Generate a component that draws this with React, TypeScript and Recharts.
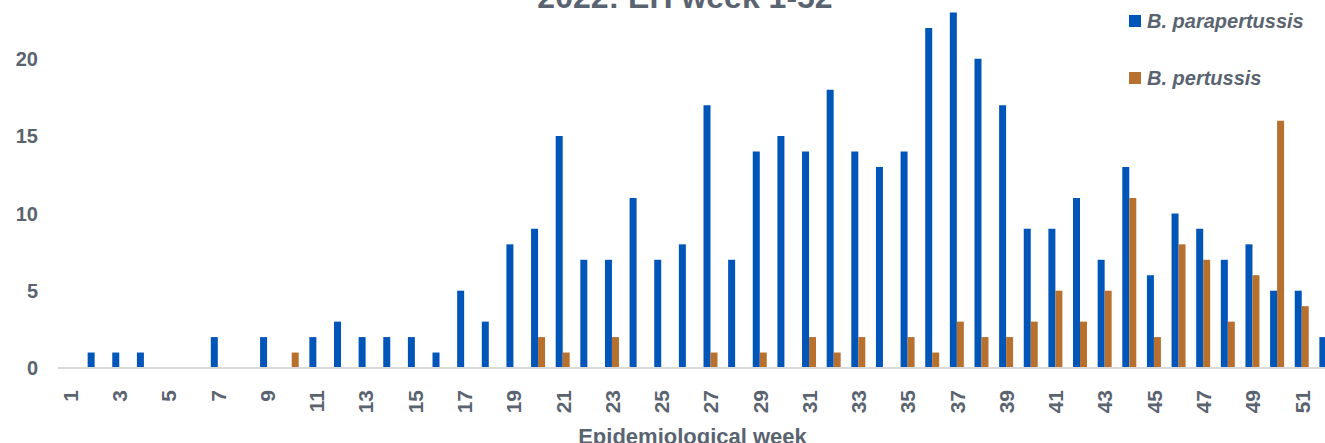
import { BarChart, Bar, XAxis, YAxis } from "recharts";

const weeks = Array.from({ length: 52 }, (_, i) => String(i + 1));

// B. parapertussis cases per week
const parapertussis = [
  0, 1, 1, 1, 0, 0, 2, 0, 2, 0,
  2, 3, 2, 2, 2, 1, 5, 3, 8, 9,
  15, 7, 7, 11, 7, 8, 17, 7, 14, 15,
  14, 18, 14, 13, 14, 22, 23, 20, 17, 9,
  9, 11, 7, 13, 6, 10, 9, 7, 8, 5,
  5, 2,
];

// B. pertussis cases per week
const pertussis = [
  0, 0, 0, 0, 0, 0, 0, 0, 0, 1,
  0, 0, 0, 0, 0, 0, 0, 0, 0, 2,
  1, 0, 2, 0, 0, 0, 1, 0, 1, 0,
  2, 1, 2, 0, 2, 1, 3, 2, 2, 3,
  5, 3, 5, 11, 2, 8, 7, 3, 6, 16,
  4, 0,
];

const yTicks = [0, 5, 10, 15, 20];

const BLUE = "#0056b8";
const ORANGE = "#b7702d";
const TEXT = "#5a6470";
const FONT = "'Liberation Sans', Arial, sans-serif";

const data = weeks.map((w, i) => ({
  week: w,
  para: parapertussis[i],
  pert: pertussis[i],
}));

const WeekTick = (props: any) => {
  const { x, y, payload } = props;
  return (
    <text
      x={x}
      y={y}
      dy={7.5}
      transform={`rotate(-90 ${x} ${y})`}
      textAnchor="end"
      fill={TEXT}
      fontSize={21}
      fontWeight="bold"
      fontFamily={FONT}
    >
      {payload.value}
    </text>
  );
};

const legendItems = [
  { name: "B. parapertussis", color: BLUE, top: 9 },
  { name: "B. pertussis", color: ORANGE, top: 66 },
];

export default function App() {
  return (
    <div
      style={{
        position: "fixed",
        left: 0,
        top: 0,
        width: 1325,
        height: 443,
        overflow: "hidden",
        background: "#fff",
        fontFamily: FONT,
      }}
    >
      <div style={{ position: "absolute", left: 0, top: -60 }}>
        <BarChart
          width={1349}
          height={520}
          data={data}
          margin={{ top: 41.5, right: 10, bottom: 0, left: 0 }}
          barSize={7}
          barGap={0}
        >
          <XAxis
            dataKey="week"
            interval={1}
            height={92}
            tickLine={false}
            tickMargin={16}
            axisLine={{ stroke: "#d9d9d9", strokeWidth: 2 }}
            tick={<WeekTick />}
            label={{
              value: "Epidemiological week",
              position: "insideBottom",
              offset: 16,
              dx: -6,
              fill: TEXT,
              fontSize: 22,
              fontWeight: "bold",
              fontFamily: FONT,
            }}
          />
          <YAxis
            width={58}
            domain={[0, 25]}
            ticks={yTicks}
            interval={0}
            tickLine={false}
            axisLine={false}
            tickMargin={14}
            tick={{ fill: TEXT, fontSize: 20, fontWeight: "bold", fontFamily: FONT }}
          />
          <Bar dataKey="para" name="B. parapertussis" fill={BLUE} isAnimationActive={false} />
          <Bar dataKey="pert" name="B. pertussis" fill={ORANGE} isAnimationActive={false} />
        </BarChart>
      </div>

      <div
        style={{
          position: "absolute",
          left: 685,
          top: -19,
          transform: "translateX(-50%)",
          whiteSpace: "nowrap",
          fontSize: 32,
          lineHeight: "32px",
          fontWeight: "bold",
          color: TEXT,
        }}
      >
        2022: EH week 1-52
      </div>

      {legendItems.map((item) => (
        <div
          key={item.name}
          style={{
            position: "absolute",
            left: 1129,
            top: item.top,
            display: "flex",
            alignItems: "center",
            whiteSpace: "nowrap",
            height: 24,
          }}
        >
          <span
            style={{
              display: "inline-block",
              width: 12,
              height: 12,
              background: item.color,
              marginRight: 6,
            }}
          />
          <span
            style={{
              fontSize: 20,
              fontWeight: "bold",
              fontStyle: "italic",
              color: TEXT,
            }}
          >
            {item.name}
          </span>
        </div>
      ))}
    </div>
  );
}
